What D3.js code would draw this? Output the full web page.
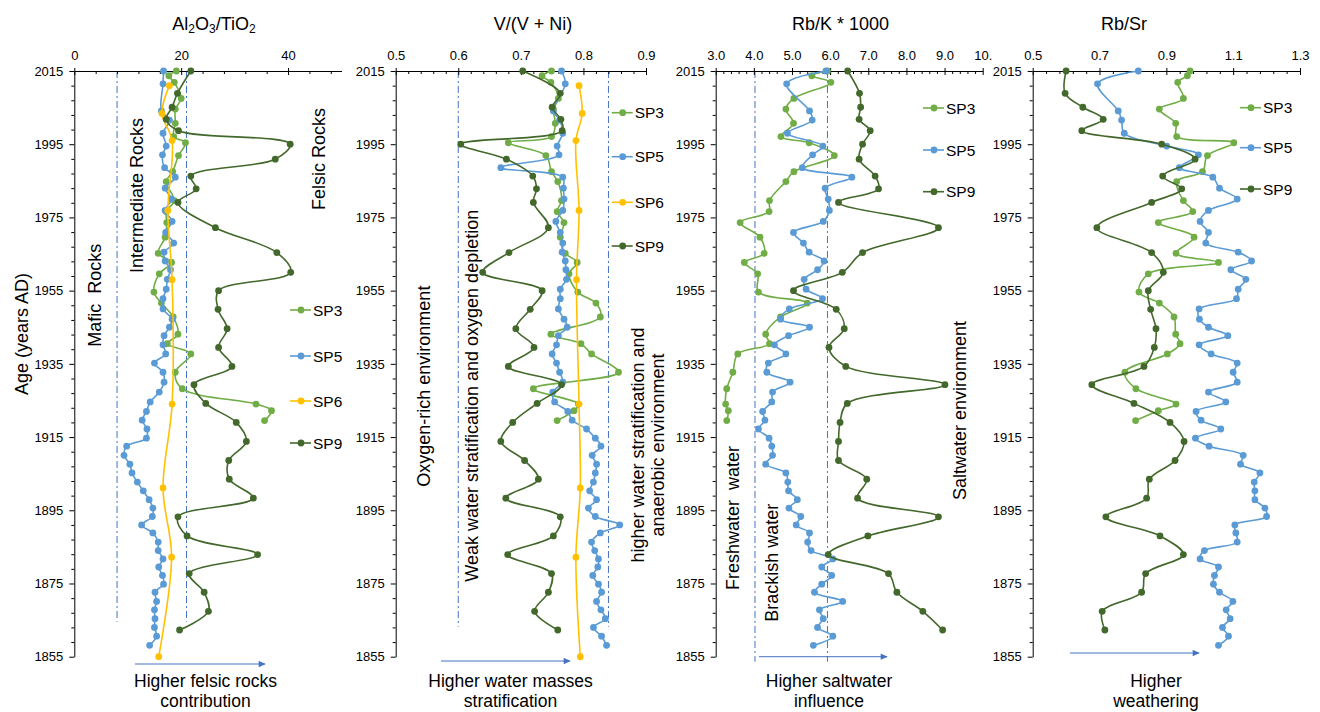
<!DOCTYPE html>
<html><head><meta charset="utf-8">
<script src="https://cdn.jsdelivr.net/npm/d3@7"></script>
<style>
body{margin:0;background:#fff}
svg text{font-family:"Liberation Sans",Arial,sans-serif;fill:#000}
</style></head>
<body><svg id="c" width="1320" height="712"></svg>
<script>
// ---------- DATA ----------
const yearTicks = [1855,1875,1895,1915,1935,1955,1975,1995,2015];
const seriesNames = ["SP3","SP5","SP6","SP9"];

const sp3Years = [2015,2013.7,2011.9,2007.5,2004.6,2000.7,1997.1,1995.4,1991.9,1987.5,1984.8,1979.6,1976.6,1973.6,1969.6,1965.2,1962.7,1959.6,1954.6,1951.6,1947.8,1943.1,1940.5,1937.7,1932.7,1928.2,1924.0,1922.2,1919.5];
const sp5Years = [2015,2011.5,2004.1,2001.6,1998.0,1994.5,1992.1,1988.6,1986.0,1983.0,1980.0,1976.9,1973.9,1970.9,1968.0,1965.5,1963.1,1960.7,1958.1,1955.4,1952.8,1950.0,1947.2,1945.0,1942.7,1940.2,1937.7,1935.2,1932.7,1930.0,1927.3,1924.6,1922.0,1919.6,1917.2,1914.7,1912.5,1910.0,1907.6,1905.2,1902.7,1900.3,1897.9,1895.6,1893.3,1891.0,1888.8,1886.3,1884.0,1881.7,1879.5,1877.2,1874.8,1872.6,1870.1,1867.8,1865.4,1863.0,1860.6,1858.1];
const sp6Years = [2011.0,2003.4,1996.0,1976.9,1958.0,1924.0,1901.1,1882.2,1855];
const sp9Years = [2015,2008.9,2005.1,2001.8,1998.7,1995.0,1990.9,1986.3,1982.8,1979.1,1972.2,1965.4,1960.0,1955.0,1949.9,1944.6,1939.5,1934.3,1929.3,1924.2,1919.0,1913.8,1908.6,1903.5,1898.3,1893.2,1888.0,1882.9,1877.7,1872.6,1867.4,1862.3];

// Al2O3/TiO2
const alTicks = [0,20,40];
const alSP3 = [19.1,17.7,18.7,20.0,18.9,18.9,18.6,20.8,19.5,18.4,17.2,18.7,17.2,17.3,17.0,15.7,18.2,15.9,14.9,16.3,18.5,19.4,17.4,21.8,18.9,20.2,34.0,36.9,35.6];
const alSP5 = [16.7,16.6,16.3,17.8,16.6,17.2,16.5,16.9,18.9,17.0,18.2,17.0,18.3,17.1,18.6,16.8,17.0,18.0,17.4,17.2,16.6,16.6,18.3,17.8,16.8,16.6,17.1,15.0,16.6,16.8,15.9,14.2,13.5,12.7,13.6,13.5,9.8,9.3,10.4,10.8,11.8,12.9,14.0,14.7,14.6,12.6,14.7,15.7,15.7,16.6,15.8,16.5,16.7,15.1,15.4,15.0,15.1,15.0,15.4,14.1];
const alSP6 = [17.8,16.4,18.3,17.5,18.3,18.3,16.6,18.2,15.8];
const alSP9 = [21.8,19.3,18.3,17.2,19.5,40.4,37.6,21.8,22.8,19.4,26.4,37.9,40.5,27.0,26.9,28.6,27.0,29.5,22.4,24.6,30.3,32.2,28.9,29.0,33.5,19.4,21.1,34.3,21.5,24.3,25.1,19.7];

// V/(V+Ni)
const vTicks = [0.5,0.6,0.7,0.8,0.9];
const vSP3 = [0.749,0.734,0.748,0.760,0.752,0.755,0.749,0.680,0.740,0.749,0.759,0.765,0.758,0.769,0.763,0.771,0.790,0.777,0.791,0.820,0.827,0.748,0.796,0.813,0.856,0.720,0.792,0.785,0.758];
const vSP5 = [0.765,0.771,0.752,0.762,0.767,0.758,0.761,0.668,0.767,0.768,0.769,0.767,0.756,0.763,0.767,0.766,0.771,0.772,0.773,0.763,0.763,0.760,0.769,0.774,0.760,0.757,0.750,0.757,0.762,0.767,0.751,0.754,0.775,0.782,0.805,0.819,0.828,0.814,0.821,0.819,0.816,0.810,0.821,0.808,0.819,0.858,0.827,0.813,0.818,0.824,0.823,0.815,0.824,0.829,0.821,0.828,0.835,0.816,0.829,0.837];
const vSP6 = [0.793,0.798,0.788,0.793,0.789,0.793,0.795,0.788,0.795];
const vSP9 = [0.703,0.763,0.750,0.764,0.766,0.604,0.677,0.719,0.725,0.720,0.744,0.681,0.639,0.734,0.715,0.692,0.721,0.680,0.765,0.726,0.687,0.668,0.706,0.728,0.676,0.763,0.752,0.679,0.749,0.744,0.722,0.759];

// Rb/K * 1000
const rbkTicks = [3,4,5,6,7,8,9,10];
const rbkSP3 = [5.93,5.52,6.02,5.05,4.84,5.04,4.71,5.45,6.11,5.05,4.84,4.41,4.40,3.64,4.16,4.27,3.75,4.10,4.12,5.40,4.70,4.31,4.41,3.58,3.45,3.29,3.26,3.33,3.29];
const rbkSP5 = [5.89,4.86,5.46,5.53,4.88,5.81,5.54,5.27,6.57,5.87,5.95,5.98,5.82,5.04,5.30,5.45,5.84,5.67,5.32,5.37,5.80,4.93,4.70,5.46,4.91,4.54,4.84,4.38,4.34,4.95,4.49,4.47,4.23,4.29,4.12,4.40,4.47,4.49,4.31,4.84,4.89,4.91,5.14,4.92,5.23,5.11,5.46,5.41,5.50,6.07,5.78,6.04,5.78,5.59,6.33,5.72,5.82,5.67,6.07,5.56];
const rbkSP9 = [6.46,6.77,6.80,6.76,7.05,6.85,6.76,7.18,7.27,6.22,8.84,6.85,6.32,5.04,6.16,6.37,5.97,6.41,9.01,6.45,6.26,6.22,6.22,6.96,6.72,8.84,6.99,5.95,7.53,7.75,8.43,8.95];

// Rb/Sr
const rbsrTicks = [0.5,0.7,0.9,1.1,1.3];
const rbsrSP3 = [0.971,0.963,0.934,0.951,0.879,0.928,0.931,1.102,1.023,1.008,0.931,0.951,0.979,0.876,0.983,0.929,1.056,0.846,0.818,0.879,0.923,0.928,0.941,0.903,0.776,0.809,0.929,0.876,0.808];
const rbsrSP5 = [0.816,0.694,0.756,0.766,0.774,0.901,0.996,0.939,1.039,1.059,1.112,1.026,1.001,1.026,1.018,1.115,1.155,1.093,1.138,1.115,1.110,0.998,0.999,1.026,1.084,0.998,1.034,1.112,1.100,1.112,1.026,1.078,0.989,1.004,1.063,0.987,1.028,1.130,1.122,1.180,1.163,1.165,1.165,1.195,1.200,1.105,1.108,1.112,1.014,1.001,1.056,1.044,1.041,1.059,1.099,1.079,1.091,1.068,1.086,1.056];
const rbsrSP9 = [0.600,0.597,0.650,0.711,0.647,0.886,0.986,0.889,0.946,0.856,0.692,0.856,0.891,0.846,0.853,0.869,0.864,0.833,0.677,0.803,0.911,0.953,0.926,0.849,0.841,0.719,0.881,0.951,0.838,0.826,0.708,0.716];

// ---------- LAYOUT ----------
const FONT = '"Liberation Sans",Arial,sans-serif';
const colors = {SP3:"#70AD47",SP5:"#5B9BD5",SP6:"#FFC000",SP9:"#43682B"};
const yearsOf = {SP3:sp3Years,SP5:sp5Years,SP6:sp6Years,SP9:sp9Years};
const svg = d3.select("#c");
const y = d3.scaleLinear().domain([1855,2015]).range([656.7,71]);
const yMinor = d3.range(1855,2015,4).filter(v => (v-1855)%20 !== 0);

const panels = [
  {x0:74.3,x1:341.5,domain:[0,50],ticks:alTicks,minor:4,fmt:d3.format("d"),
   title:[["Al",0],["2",1],["O",0],["3",1],["/TiO",0],["2",1]],titleX:214,
   dashed:[8,21],dashEnd:621.7,
   data:{SP3:alSP3,SP5:alSP5,SP6:alSP6,SP9:alSP9},legX:290,legY:[310,356,401,443],legS:["SP3","SP5","SP6","SP9"]},
  {x0:395.7,x1:646,domain:[0.5,0.9],ticks:vTicks,minor:0.02,fmt:d3.format(".1f"),
   title:[["V/(V + Ni)",0]],titleX:533,
   dashed:[0.6,0.84],dashEnd:626.7,
   data:{SP3:vSP3,SP5:vSP5,SP6:vSP6,SP9:vSP9},legX:611.7,legY:[112.7,156.7,202.3,246],legS:["SP3","SP5","SP6","SP9"]},
  {x0:715.7,x1:982.7,domain:[3,10],ticks:rbkTicks,minor:0.2,fmt:d=>d===10?"10.":d.toFixed(1),
   title:[["Rb/K * 1000",0]],titleX:840.5,
   dashed:[4.03,5.93],dashEnd:661.7,
   data:{SP3:rbkSP3,SP5:rbkSP5,SP9:rbkSP9},legX:923,legY:[108,150,191.7],legS:["SP3","SP5","SP9"]},
  {x0:1032.7,x1:1300,domain:[0.5,1.3],ticks:rbsrTicks,minor:0.04,fmt:d3.format(".1f"),
   title:[["Rb/Sr",0]],titleX:1124,
   dashed:[],dashEnd:0,
   data:{SP3:rbsrSP3,SP5:rbsrSP5,SP9:rbsrSP9},legX:1240,legY:[107.7,147.7,189],legS:["SP3","SP5","SP9"]}
];

// arrow marker
svg.append("defs").append("marker").attr("id","ah")
  .attr("viewBox","0 0 10 10").attr("refX",9).attr("refY",5)
  .attr("markerUnits","userSpaceOnUse").attr("markerWidth",9).attr("markerHeight",7)
  .attr("orient","auto")
  .append("path").attr("d","M0,0.5 L10,5 L0,9.5 Z").attr("fill","#4472C4");

function styleAxis(g){
  g.attr("font-family",FONT).attr("font-size",13);
  g.selectAll("path,line").attr("stroke","#000");
  g.selectAll("text").attr("fill","#000");
}

panels.forEach(p => {
  const x = d3.scaleLinear().domain(p.domain).range([p.x0,p.x1]);
  const g = svg.append("g");
  const top = y(2015);
  const nMinor = Math.round((p.domain[1]-p.domain[0])/p.minor);
  const majorSet = new Set(p.ticks.map(t=>t.toFixed(4)));
  const minorVals = d3.range(0,nMinor+1).map(i=>+(p.domain[0]+i*p.minor).toFixed(4))
      .filter(v=>!majorSet.has(v.toFixed(4)) && v<=p.domain[1]+1e-9);

  // dashed boundaries
  p.dashed.forEach(v=>{
    g.append("line").attr("x1",x(v)).attr("x2",x(v)).attr("y1",top).attr("y2",p.dashEnd)
     .attr("stroke","#4472C4").attr("stroke-width",1).attr("stroke-dasharray","7,3,2,3");
  });

  // top axis
  g.append("g").attr("transform",`translate(0,${top})`)
   .call(d3.axisTop(x).tickValues(p.ticks).tickFormat(p.fmt).tickSizeInner(-4).tickSizeOuter(0).tickPadding(11))
   .call(styleAxis);
  g.append("g").attr("transform",`translate(0,${top})`)
   .call(d3.axisTop(x).tickValues(p.ticks).tickFormat("").tickSizeInner(3).tickSizeOuter(0))
   .call(styleAxis).select(".domain").remove();
  g.append("g").attr("transform",`translate(0,${top})`)
   .call(d3.axisTop(x).tickValues(minorVals).tickFormat("").tickSizeInner(-3).tickSizeOuter(0))
   .call(styleAxis).select(".domain").remove();

  // left axis
  g.append("g").attr("transform",`translate(${p.x0},0)`)
   .call(d3.axisLeft(y).tickValues(yearTicks).tickFormat(d3.format("d")).tickSizeInner(5).tickSizeOuter(0).tickPadding(6))
   .call(styleAxis);
  g.append("g").attr("transform",`translate(${p.x0},0)`)
   .call(d3.axisLeft(y).tickValues(yMinor).tickFormat("").tickSizeInner(3).tickSizeOuter(0))
   .call(styleAxis).select(".domain").remove();

  // title
  const t = svg.append("text").attr("x",p.titleX).attr("y",30).attr("text-anchor","middle")
    .attr("font-size",18);
  p.title.forEach(([s,sub])=>{
    const ts = t.append("tspan").text(s);
    if(sub) ts.attr("font-size",12).attr("baseline-shift","-22%");
  });

  // series
  const line = d3.line().x(d=>x(d[1])).y(d=>y(d[0])).curve(d3.curveCatmullRom.alpha(0.5));
  seriesNames.forEach(s=>{
    if(!p.data[s]) return;
    const pts = d3.zip(yearsOf[s], p.data[s]);
    g.append("path").datum(pts).attr("d",line).attr("fill","none")
     .attr("stroke",colors[s]).attr("stroke-width",1.6);
    g.selectAll(null).data(pts).enter().append("circle")
     .attr("cx",d=>x(d[1])).attr("cy",d=>y(d[0])).attr("r",3.4).attr("fill",colors[s]);
  });

  // legend
  p.legS.forEach((s,i)=>{
    const ly = p.legY[i];
    g.append("line").attr("x1",p.legX).attr("x2",p.legX+21).attr("y1",ly).attr("y2",ly)
     .attr("stroke",colors[s]).attr("stroke-width",1.6);
    g.append("circle").attr("cx",p.legX+11).attr("cy",ly).attr("r",3.4).attr("fill",colors[s]);
    g.append("text").attr("x",p.legX+23).attr("y",ly).attr("dominant-baseline","central")
     .attr("font-size",15.5).text(s);
  });
});

// y axis title
svg.append("text").attr("transform","translate(22,334) rotate(-90)")
  .attr("text-anchor","middle").attr("dominant-baseline","central").attr("font-size",18)
  .text("Age (years AD)");

// rotated region labels: [text, x, y, anchor]
const regionLabels = [
  ["Mafic  Rocks",95,346.7,"start"],
  ["Intermediate Rocks",137,273,"start"],
  ["Felsic Rocks",319,210,"start"],
  ["Oxygen-rich environment",424,486.7,"start"],
  ["Weak water stratification and oxygen depletion",471.7,581.7,"start"],
  ["higher water stratification and",638,445,"middle"],
  ["anaerobic environment",658,445,"middle"],
  ["Freshwater  water",733,590,"start"],
  ["Brackish water",772,621.7,"start"],
  ["Saltwater environment",960,500,"start"]
];
regionLabels.forEach(([s,lx,ly,a])=>{
  svg.append("text").attr("transform",`translate(${lx},${ly}) rotate(-90)`)
    .attr("text-anchor",a).attr("dominant-baseline","central").attr("font-size",18)
    .style("white-space","pre").text(s);
});

// bottom arrows and captions
const arrows = [
  {x1:135,x2:265,y:664,cx:205.5,lines:["Higher felsic rocks","contribution"]},
  {x1:441,x2:570,y:661,cx:510.5,lines:["Higher water masses","stratification"]},
  {x1:759,x2:887,y:656.7,cx:829,lines:["Higher saltwater","influence"]},
  {x1:1070,x2:1199,y:653,cx:1156,lines:["Higher","weathering"]}
];
arrows.forEach(a=>{
  svg.append("line").attr("x1",a.x1).attr("x2",a.x2).attr("y1",a.y).attr("y2",a.y)
    .attr("stroke","#4472C4").attr("stroke-width",1).attr("marker-end","url(#ah)");
  a.lines.forEach((s,i)=>{
    svg.append("text").attr("x",a.cx).attr("y",681+i*20).attr("text-anchor","middle")
      .attr("dominant-baseline","central").attr("font-size",17.5).text(s);
  });
});
</script></body></html>
